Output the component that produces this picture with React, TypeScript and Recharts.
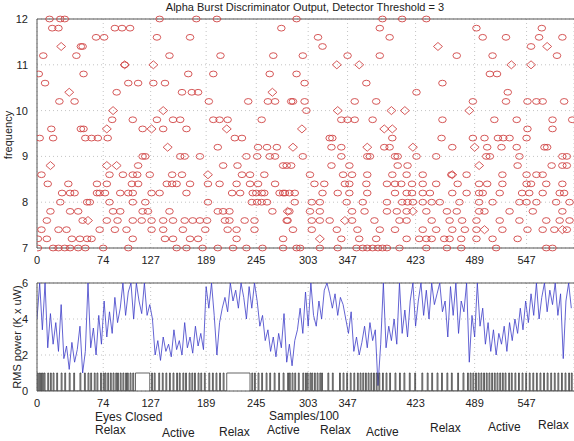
import React from 'react';
import { ScatterChart, Scatter, LineChart, Line, XAxis, YAxis, CartesianGrid, ReferenceLine } from 'recharts';

// x ticks (samples/100) shared by both panels
const xTicks = [0, 74, 127, 189, 245, 303, 347, 423, 489, 547];
const freqTicks = [7, 8, 9, 10, 11, 12];
const rmsTicks = [0, 2, 4, 6];

// detected frequency per sample (frequency level -> sample positions)
const circleRows: [number, number[]][] = [
  [12, [14, 26, 31, 137, 178, 201, 290, 386, 408, 435]],
  [11.8, [17, 24, 87, 95, 104, 273, 383, 491, 564]],
  [11.6, [66, 75, 134, 171, 314, 394, 498, 524, 561, 587]],
  [11.4, [49, 51, 319, 552]],
  [11.2, [7, 44, 148, 205, 264, 297, 347, 383, 469, 509, 581]],
  [11, [98]],
  [10.8, [2, 52, 169, 197, 260, 290, 506, 514]],
  [10.6, [9, 102, 113, 130, 143, 299, 368, 453]],
  [10.4, [89, 162, 173, 180, 424, 526]],
  [10.2, [25, 42, 192, 236, 258, 266, 284, 286, 299, 355, 379, 487, 524, 548, 558, 565, 589]],
  [10, [301]],
  [9.8, [84, 107, 134, 152, 160, 197, 204, 213, 251, 340, 347, 355, 375, 453, 511, 536, 576, 598]],
  [9.6, [16, 49, 52, 118, 141, 167, 548, 576]],
  [9.4, [3, 18, 54, 61, 68, 79, 221, 229, 327, 330, 397, 452, 487, 500, 515, 521, 528, 547]],
  [9.2, [202, 247, 257, 268, 329, 340, 388, 394, 464, 503, 519, 536, 567, 570]],
  [9, [118, 121, 160, 165, 182, 234, 246, 260, 266, 297, 340, 369, 372, 400, 403, 424, 446, 502, 506, 539, 587, 592]],
  [8.8, [113, 208, 224, 275, 279, 284, 329, 349, 403, 414, 537, 575, 587, 592]],
  [8.6, [5, 81, 96, 107, 112, 126, 151, 162, 229, 238, 254, 305, 342, 352, 369, 397, 413, 431, 463, 480, 520, 547, 558, 565]],
  [8.4, [12, 35, 67, 78, 106, 113, 145, 151, 156, 171, 191, 204, 223, 238, 247, 266, 310, 321, 344, 349, 368, 391, 400, 407, 419, 431, 446, 470, 494, 503, 520, 547, 552, 569, 587]],
  [8.2, [28, 37, 42, 67, 70, 76, 93, 102, 107, 128, 137, 167, 218, 227, 241, 245, 251, 254, 271, 275, 277, 282, 288, 319, 336, 349, 369, 400, 413, 419, 431, 439, 464, 480, 494, 498, 517, 542, 550, 565, 584, 589]],
  [8, [26, 56, 59, 81, 107, 121, 191, 240, 246, 251, 257, 288, 307, 316, 346, 364, 391, 408, 414, 420, 431, 441, 450, 472, 494, 509, 539, 547, 558, 580, 595]],
  [7.8, [15, 37, 46, 85, 93, 118, 124, 148, 202, 208, 215, 263, 282, 305, 316, 352, 366, 391, 402, 413, 435, 458, 469, 494, 500, 528, 554, 587]],
  [7.6, [11, 51, 78, 90, 107, 117, 128, 141, 152, 165, 174, 182, 190, 210, 215, 232, 243, 279, 280, 307, 316, 327, 352, 377, 405, 413, 441, 461, 475, 491, 517, 539, 569, 584, 595]],
  [7.4, [5, 24, 33, 70, 87, 100, 128, 141, 163, 188, 213, 223, 243, 286, 307, 335, 358, 383, 400, 431, 446, 464, 478, 491, 520, 548, 565, 578, 592]],
  [7.2, [1, 11, 39, 48, 56, 61, 107, 143, 152, 171, 180, 223, 275, 340, 360, 379, 413, 427, 435, 441, 455, 461, 474, 491, 509, 537]],
  [7, [1, 18, 24, 31, 37, 46, 54, 74, 102, 156, 167, 185, 202, 219, 234, 252, 275, 290, 294, 316, 336, 357, 364, 369, 375, 381, 386, 391, 405, 435, 458, 474, 513, 569, 576]],
];

// the diamond-marked detections
const diamondPts: [number, number][] = [
  [27, 11.4], [36, 10.4], [98, 11], [85, 10], [130, 11], [141, 10], [263, 10.4], [296, 9.6],
  [335, 11], [360, 11], [336, 10], [396, 10], [411, 10], [388, 9.6], [397, 9.6], [448, 11.4],
  [483, 10], [530, 11], [570, 11.4], [552, 11], [78, 9.6], [128, 9.6], [212, 9.6], [146, 9.2],
  [15, 8.8], [78, 8.8], [89, 8.8], [191, 8.6], [286, 9.2], [369, 9.2], [420, 9.2], [489, 9.2],
  [494, 8.8], [57, 7.6], [344, 7.6], [280, 7.8], [420, 7.8], [500, 7.4], [587, 7.4], [464, 8.6], [316, 7.2],
];

// RMS power, one reading every 3 samples/100 (clipped at 6 like the plot)
const rmsStep = 3;
const rmsPower = [
  4.0, 6.0, 3.4, 6.0, 2.4, 4.3, 2.6, 3.8, 2.2, 4.8,
  1.8, 2.5, 1.2, 2.7, 1.6, 2.3, 3.6, 1.0, 2.2, 6.0,
  2.4, 3.5, 2.0, 4.2, 2.6, 5.0, 3.0, 4.4, 3.2, 5.2,
  3.8, 4.6, 6.0, 4.2, 5.5, 6.0, 4.0, 6.0, 5.0, 4.3,
  6.0, 4.2, 4.8, 4.0, 2.0, 2.8, 1.7, 3.0, 2.2, 2.6,
  1.9, 3.4, 2.3, 2.8, 2.0, 3.8, 2.4, 3.0, 2.1, 3.6,
  2.5, 3.2, 2.3, 5.8, 4.6, 6.0, 4.2, 2.0, 3.8, 4.6,
  5.2, 4.4, 6.0, 5.0, 5.6, 4.6, 6.0, 5.2, 4.0, 5.8,
  4.6, 6.0, 5.0, 3.6, 4.2, 2.8, 3.4, 2.2, 3.0, 1.9,
  3.2, 2.4, 4.3, 1.6, 2.6, 1.4, 2.8, 3.4, 4.6, 3.2,
  5.5, 3.6, 6.0, 4.2, 3.6, 5.0, 4.0, 5.6, 6.0, 5.4,
  4.6, 5.4, 4.2, 5.2, 4.8, 4.0, 3.2, 4.4, 2.2, 3.0,
  2.0, 2.7, 3.6, 2.4, 3.8, 2.8, 3.4, 0.3, 2.6, 6.0,
  2.4, 3.6, 2.8, 4.0, 2.6, 6.0, 3.2, 4.5, 3.0, 5.0,
  6.0, 3.6, 5.0, 6.0, 4.2, 5.6, 4.0, 6.0, 4.8, 5.4,
  6.0, 4.4, 5.0, 3.0, 5.8, 4.2, 6.0, 3.2, 5.0, 4.4,
  6.0, 1.6, 4.2, 3.0, 6.0, 3.6, 4.6, 2.6, 3.8, 2.2,
  3.4, 2.0, 3.2, 2.6, 3.6, 2.2, 3.8, 2.8, 4.0, 3.2,
  4.6, 3.4, 5.0, 3.8, 5.4, 4.2, 6.0, 4.0, 5.2, 6.0,
  4.4, 5.6, 4.8, 6.0, 4.2, 5.4, 1.8, 5.0, 6.0, 4.6,
];

// alpha burst detector output: spans (start, end) where it is 1
const burstOn: [number, number][] = [
  [0, 1], [2, 3], [4, 5], [6, 7], [8, 9], [12, 13], [15, 16], [18, 19], [22, 23], [27, 28], [31, 32], [36, 37], [41, 42],
  [48, 49], [53, 54], [57, 58], [60, 61], [64, 65], [67, 68], [71, 72], [74, 75], [76, 77], [79, 80], [82, 83], [85, 86],
  [88, 89], [90, 91], [93, 94], [96, 97], [99, 100], [101, 102], [104, 105], [107, 108], [110, 126],
  [128, 129], [131, 132], [136, 137], [140, 141], [144, 145], [148, 149], [152, 153], [156, 157], [159, 160], [163, 164],
  [166, 167], [170, 171], [173, 174], [176, 177], [180, 181], [183, 184], [187, 188], [192, 193], [196, 197], [200, 201],
  [204, 205], [208, 209], [212, 238], [240, 241], [243, 244], [247, 248], [251, 252], [256, 257], [260, 261], [265, 266],
  [270, 271], [275, 276], [280, 281], [282, 283], [285, 286], [288, 289], [292, 293], [297, 298], [300, 301], [302, 303],
  [305, 306], [307, 308], [310, 311], [313, 314], [316, 317], [318, 319], [325, 326], [330, 331], [338, 339], [342, 343],
  [346, 347], [350, 351], [354, 355], [358, 359], [361, 362], [364, 365], [367, 368], [370, 371], [373, 374], [376, 377],
  [379, 380], [382, 383], [386, 387], [390, 391], [394, 395], [400, 401], [405, 406], [410, 411], [416, 417], [422, 423],
  [430, 431], [436, 437], [441, 442], [447, 448], [452, 453], [458, 459], [463, 464], [470, 471], [476, 477], [481, 482],
  [484, 485], [487, 488], [490, 491], [493, 494], [496, 497], [499, 500], [502, 503], [505, 506], [508, 509], [511, 512],
  [514, 515], [517, 518], [520, 521], [523, 524], [527, 528], [530, 531], [534, 535], [538, 539], [542, 543], [546, 547],
  [550, 551], [554, 555], [558, 559], [562, 563], [566, 567], [570, 571], [574, 575], [578, 579], [582, 583], [586, 587],
  [590, 591], [594, 595], [597, 598],
];

const phaseNames = ['Relax', 'Active', 'Relax', 'Active', 'Relax', 'Active', 'Relax', 'Active', 'Relax'];
const phaseSpots: [number, number][] = [[95, 434], [162, 437], [219, 436], [267, 434], [320, 434], [366, 436], [430, 432], [488, 431], [538, 429]];

const circles = circleRows.flatMap(([f, xs]) => xs.map((x) => ({ x, f })));
const diamonds = diamondPts.map(([x, f]) => ({ x, f }));
const rmsData = rmsPower.map((v, i) => ({ x: i * rmsStep, v }));
const burstData = burstOn.flatMap(([s, e]) => [{ x: s, v: 0 }, { x: s, v: 1 }, { x: e, v: 1 }, { x: e, v: 0 }]);

const RED = '#d04545';
const FONT = '"Liberation Sans", Arial, sans-serif';
const tickStyle = { fontSize: 11, fill: '#222', fontFamily: FONT };

const Ring = (p: any) => (
  <ellipse cx={p.cx} cy={p.cy} rx={3.8} ry={2.9} fill="none" stroke={RED} strokeWidth={0.9} />
);
const Diamond = (p: any) => (
  <path
    d={`M${p.cx},${p.cy - 4} L${p.cx + 4.5},${p.cy} L${p.cx},${p.cy + 4} L${p.cx - 4.5},${p.cy} Z`}
    fill="none"
    stroke={RED}
    strokeWidth={0.9}
  />
);

export default function App() {
  return (
    <div style={{ position: 'absolute', left: 0, top: 0, width: 574, height: 441, background: '#fff', overflow: 'hidden', fontFamily: FONT }}>
      <div style={{ position: 'absolute', left: 0, top: 0, width: 574, height: 270 }}>
        <ScatterChart width={574} height={270} margin={{ top: 19, right: 0, bottom: 0, left: 0 }}>
          <CartesianGrid stroke="#c4c4c4" strokeDasharray="1 3" />
          <XAxis type="number" dataKey="x" domain={[0, 600]} ticks={xTicks} allowDataOverflow height={22} tickLine={false} tickMargin={2} tick={tickStyle} stroke="#555" interval={0} />
          <YAxis type="number" dataKey="f" domain={[7, 12]} ticks={freqTicks} width={37} tickLine={false} tickMargin={3} tick={tickStyle} stroke="#555" />
          <ReferenceLine y={12} stroke="#555" />
          <Scatter data={circles} shape={Ring} isAnimationActive={false} />
          <Scatter data={diamonds} shape={Diamond} isAnimationActive={false} />
        </ScatterChart>
      </div>
      <div style={{ position: 'absolute', left: 0, top: 262, width: 574, height: 150 }}>
        <LineChart width={574} height={150} margin={{ top: 21, right: 0, bottom: 0, left: 0 }}>
          <CartesianGrid stroke="#c4c4c4" strokeDasharray="1 3" />
          <XAxis type="number" dataKey="x" domain={[0, 600]} ticks={xTicks} allowDataOverflow height={21} tickLine={false} tickMargin={2} tick={tickStyle} stroke="#555" interval={0} />
          <YAxis type="number" domain={[0, 6]} ticks={rmsTicks} allowDataOverflow width={37} tickLine={false} tickMargin={3} tick={tickStyle} stroke="#555" />
          <ReferenceLine y={6} stroke="#555" />
          <Line data={rmsData} dataKey="v" type="linear" stroke="#3c3cc8" strokeWidth={0.8} dot={false} isAnimationActive={false} />
          <Line data={burstData} dataKey="v" type="linear" stroke="#222" strokeWidth={0.7} dot={false} isAnimationActive={false} />
        </LineChart>
      </div>
      <svg width={574} height={441} style={{ position: 'absolute', left: 0, top: 0, pointerEvents: 'none' }} fontFamily={FONT} fill="#222">
        <text x={305} y={11} fontSize={11} textAnchor="middle">Alpha Burst Discriminator Output, Detector Threshold = 3</text>
        <text x={12} y={135} fontSize={11} textAnchor="middle" transform="rotate(-90, 12, 135)">frequency</text>
        <text x={21} y={337} fontSize={11} textAnchor="middle" transform="rotate(-90, 21, 337)">RMS power (K x uW)</text>
        <text x={95} y={421} fontSize={12}>Eyes Closed</text>
        <text x={269} y={420} fontSize={12}>Samples/100</text>
        {phaseNames.map((name, i) => (
          <text key={i} x={phaseSpots[i][0]} y={phaseSpots[i][1]} fontSize={12}>{name}</text>
        ))}
      </svg>
    </div>
  );
}
